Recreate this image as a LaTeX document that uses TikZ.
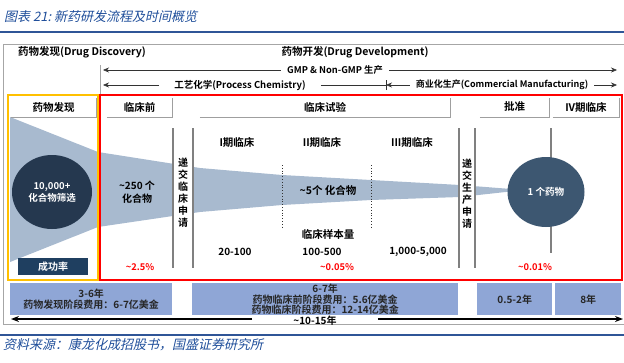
\documentclass[tikz,border=0pt]{standalone}
\usepackage{fontspec}
\setmainfont{Noto Sans CJK SC}[BoldFont={* Bold}]
\newfontfamily\slantfont[FakeSlant=0.22]{Noto Sans CJK SC}
\usepackage{xcolor}
\usetikzlibrary{positioning,arrows.meta,shapes.geometric}

\definecolor{titleblue}{RGB}{31,78,154}
\definecolor{ruleblue}{RGB}{47,85,151}
\definecolor{funnelblue}{RGB}{168,186,207}
\definecolor{darknavy}{RGB}{37,56,79}
\definecolor{slatenavy}{RGB}{61,87,113}
\definecolor{ratebox}{RGB}{31,63,96}
\definecolor{costblue}{RGB}{143,166,214}
\definecolor{goldline}{RGB}{255,192,0}

\tikzset{
  lbl/.style={font=\bfseries\fontsize{10.5}{12}\selectfont, inner sep=1pt},
  tabbox/.style={font=\bfseries\fontsize{10.5}{12}\selectfont, minimum height=20pt, inner sep=0pt},
  tabline/.style={draw=gray!75, line width=1.3pt},
  pct/.style={text=red, font=\bfseries\fontsize{9.3}{10}\selectfont},
  vline/.style={draw=gray, line width=1.3pt},
  arr/.style={-{Stealth[length=6pt,width=5pt]}, gray!40!black, line width=0.6pt},
  cost/.style={fill=costblue, anchor=north west, minimum height=32pt, inner sep=0pt,
    align=center, font=\bfseries\fontsize{10}{10.5}\selectfont, text=black!85},
  vtext/.style={align=center, font=\bfseries\fontsize{10}{12}\selectfont, inner sep=0pt}
}

\begin{document}
\begin{tikzpicture}[x=1pt,y=-1pt]
  \useasboundingbox (0,0) rectangle (624,362);

  % title and rules
  \node[anchor=west, inner sep=0pt, text=titleblue, font=\slantfont\fontsize{13}{14}\selectfont] (title) at (4,17) {图表 21:\ 新药研发流程及时间概览};
  \draw[ruleblue, line width=1.5pt] (0,32) -- (624,32);
  \draw[gray!70, line width=0.8pt] (3,44) rectangle (626,324);

  % headings
  \node[lbl] (disc) at (82,52) {药物发现(Drug Discovery)};
  \node[lbl] (dev) at (355,52) {药物开发(Drug Development)};
  \draw[gray!70, line width=1pt] (100,65) -- (100,95);

  \coordinate (gmpL) at (103,70);
  \coordinate (gmpR) at (617,70);
  \node[lbl, inner xsep=6pt, font=\bfseries\fontsize{9.3}{11}\selectfont] (gmp) at (335,70) {GMP \& Non-GMP 生产};
  \draw[arr] (gmp.west) -- (gmpL);
  \draw[arr] (gmp.east) -- (gmpR);

  \coordinate (pcL) at (103,85);
  \coordinate (split) at (386,85);
  \coordinate (cmR) at (617,85);
  \node[lbl, inner xsep=15pt, font=\bfseries\fontsize{9.5}{11}\selectfont] (pc) at (240,85) {工艺化学(Process Chemistry)};
  \node[lbl, inner xsep=6pt, font=\bfseries\fontsize{9}{11}\selectfont] (cm) at (502,85) {商业化生产(Commercial Manufacturing)};
  \draw[arr] (pc.west) -- (pcL);
  \draw[gray!40!black, line width=0.6pt] (pc.east) -- (split);
  \draw[gray!40!black, line width=0.8pt] ([yshift=-5pt]split) -- ([yshift=5pt]split);
  \draw[arr] (cm.west) -- (split);
  \draw[arr] (cm.east) -- (cmR);

  % funnel
  \fill[funnelblue] (10,117) -- (98,152) -- (200,168) -- (282,175) -- (371,180) -- (460,185) -- (524,190)
    -- (460,197) -- (371,200) -- (282,205) -- (200,212) -- (98,227) -- (10,262) -- cycle;

  % submission columns
  \fill[white] (173,126) rectangle (193,270);
  \fill[white] (459,126) rectangle (475,270);
  \foreach \x in {173,193,459,475}
    \draw[vline] (\x,128) -- (\x,268);
  \node[vtext] (ind) at (183,193) {递\\交\\临\\床\\申\\请};
  \node[vtext] (nda) at (467,194) {递\\交\\生\\产\\申\\请};

  % phase dividers
  \foreach \x in {282,371}
    \draw[gray!40!black, dotted, line width=0.8pt] (\x,165) -- (\x,227);
  \draw[vline] (551,128) -- (551,253);

  % circles
  \node[ellipse, fill=darknavy, minimum width=80pt, minimum height=74pt, inner sep=0pt, align=center,
    text=white, font=\bfseries\fontsize{9.5}{12}\selectfont] (lib) at (52,192) {10,000+\\化合物筛选};
  \node[ellipse, fill=slatenavy, minimum width=77pt, minimum height=70pt, inner sep=0pt,
    text=white, font=\bfseries\fontsize{9.6}{11}\selectfont] (drug) at (546,192) {1 个药物};

  % frames
  \draw[goldline, line width=1.8pt] (8,95) rectangle (98,280);
  \draw[red, line width=1.8pt] (100,95) rectangle (622,280);

  % tabs
  \foreach \n/\t/\xa/\xb in {t1/药物发现/11/96, t2/临床前/107/172, t3/临床试验/200/450, t4/批准/480/549, t5/IV期临床/553/619}{
    \node[tabbox, minimum width=\xb pt-\xa pt] (\n) at ({(\xa+\xb)/2},107) {\t};
    \draw[tabline] (\n.south west) -- (\n.south east) -- ([yshift=-1pt]\n.north east);
  }

  % texts in the stages
  \node[lbl, align=center, font=\bfseries\fontsize{10}{12.5}\selectfont] (c250) at (137,192) {\textasciitilde250 个\\化合物};
  \node[lbl] (p1) at (237,142) {I期临床};
  \node[lbl] (p2) at (322,142) {II期临床};
  \node[lbl] (p3) at (412,142) {III期临床};
  \node[lbl] (c5) at (328,190) {\textasciitilde5个 化合物};
  \node[lbl] (size) at (328,234) {临床样本量};
  \node[lbl, font=\bfseries\fontsize{10}{12}\selectfont] (n1) at (235,252) {20-100};
  \node[lbl, font=\bfseries\fontsize{10}{12}\selectfont] (n2) at (322,252) {100-500};
  \node[lbl, font=\bfseries\fontsize{10}{12}\selectfont] (n3) at (418,252) {1,000-5,000};

  % success rates
  \node[fill=ratebox, minimum width=70pt, minimum height=17pt, inner sep=0pt, text=white,
    font=\bfseries\fontsize{10}{11}\selectfont] (rate) at (53,266.5) {成功率};
  \node[pct] (r1) at (140,267) {\textasciitilde2.5\%};
  \node[pct] (r2) at (337,267) {\textasciitilde0.05\%};
  \node[pct] (r3) at (535,267) {\textasciitilde0.01\%};

  % cost and time boxes
  \node[cost, minimum width=162pt] (cost1) at (10,283) {3-6年\\药物发现阶段费用：6-7亿美金};
  \node[cost, minimum width=266pt] (cost2) at (192,283) {6-7年\\药物临床前阶段费用：5.6亿美金\\药物临床阶段费用：12-14亿美金};
  \node[cost, minimum width=75pt] (cost3) at (477,283) {0.5-2年};
  \node[cost, minimum width=66pt] (cost4) at (555,283) {8年};

  % total timeline
  \coordinate (spanL) at (11,319);
  \coordinate (spanR) at (623,319);
  \node[lbl, inner xsep=41pt, inner ysep=0pt, font=\bfseries\fontsize{10}{11}\selectfont] (span) at (315,321) {\textasciitilde10-15年};
  \draw[-{Stealth[length=8pt,width=6pt]}, line width=2pt] (span.west |- spanL) -- (spanL);
  \draw[-{Stealth[length=8pt,width=6pt]}, line width=2pt] (span.east |- spanR) -- (spanR);

  % source
  \draw[ruleblue, line width=1.5pt] (0,335) -- (624,335);
  \node[anchor=west, inner sep=0pt, text=titleblue, font=\slantfont\fontsize{13}{14}\selectfont] (src) at (3,345) {资料来源：康龙化成招股书，国盛证券研究所};
\end{tikzpicture}
\end{document}
